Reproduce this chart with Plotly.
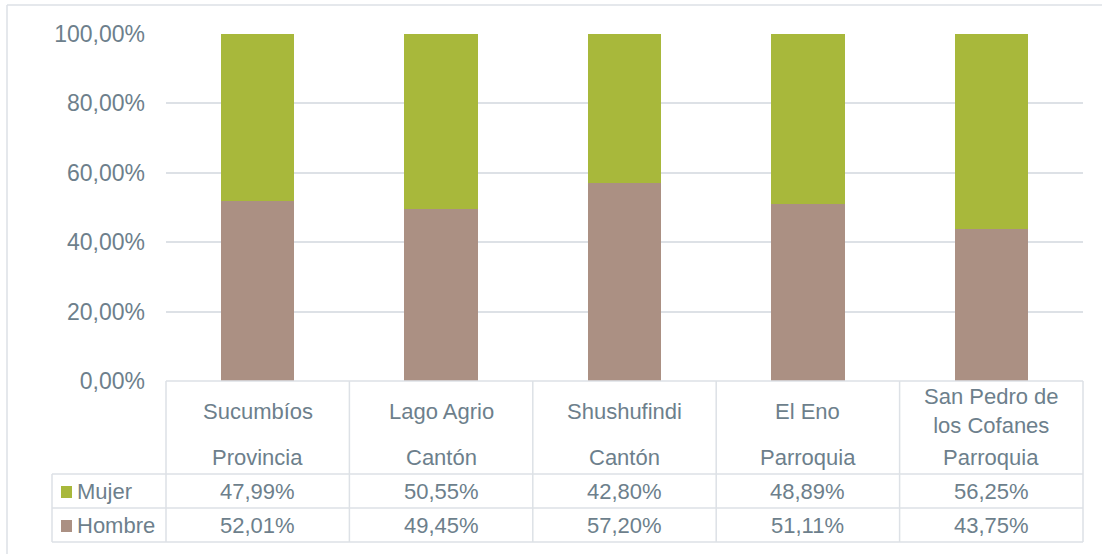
import plotly.graph_objects as go

# ---- data ----
cat_names = ["Sucumbíos", "Lago Agrio", "Shushufindi", "El Eno", "San Pedro de<br>los Cofanes"]
cat_types = ["Provincia", "Cantón", "Cantón", "Parroquia", "Parroquia"]
mujer = [47.99, 50.55, 42.80, 48.89, 56.25]
hombre = [52.01, 49.45, 57.20, 51.11, 43.75]
series_names = ["Mujer", "Hombre"]
y_ticks = [0, 0.2, 0.4, 0.6, 0.8, 1.0]

# ---- styling ----
W, H = 1102, 554
GREEN = "#a8b83b"
BROWN = "#ab9083"
GRID = "#dde1e6"
TXT = "#6d7f8c"
FONT = "Liberation Sans, Arial, sans-serif"
FS = 22
FS_TICK = 23

def px(x):
    return x / W

def py(y):
    return 1 - y / H

X0, X1 = 166, 1083          # plot area horizontal extent (px)
Y_TOP, Y_BOT = 34, 381       # 100% and 0% (px)
Y_HDR, Y_R1, Y_R2 = 474, 508, 542
LEG_X = 52

ids = list(range(len(cat_names)))

fig = go.Figure()
fig.add_trace(go.Bar(x=ids, y=[v / 100 for v in hombre], name="Hombre",
                     marker=dict(color=BROWN, line=dict(width=0))))
fig.add_trace(go.Bar(x=ids, y=[v / 100 for v in mujer], name="Mujer",
                     marker=dict(color=GREEN, line=dict(width=0))))

n = len(cat_names)
fig.update_layout(
    width=W, height=H, autosize=False,
    margin=dict(l=0, r=0, t=0, b=0, pad=0, autoexpand=False),
    paper_bgcolor="white", plot_bgcolor="white",
    barmode="stack", bargap=0.6,
    showlegend=False,
    separators=",.",
    font=dict(family=FONT, size=FS, color=TXT),
    xaxis=dict(domain=[px(X0), px(X1)], range=[-0.5, n - 0.5],
               showticklabels=False, showgrid=False, zeroline=False,
               showline=False, ticks="", automargin=False),
    yaxis=dict(domain=[py(Y_BOT), py(Y_TOP)], range=[0, 1],
               tickvals=y_ticks, tickformat=".2%",
               showgrid=True, gridcolor=GRID, gridwidth=1.5,
               zeroline=False, showline=False, ticks="",
               ticklabelstandoff=20, automargin=False,
               tickfont=dict(family=FONT, size=FS_TICK, color=TXT)),
)

shapes = []
line = dict(color=GRID, width=1.5)
# outer chart border (top and left)
shapes.append(dict(type="line", xref="paper", yref="paper", x0=px(7), x1=px(W), y0=py(5), y1=py(5), line=line))
shapes.append(dict(type="line", xref="paper", yref="paper", x0=px(7), x1=px(7), y0=py(5), y1=py(H), line=line))

colw = (X1 - X0) / n
bounds = [X0 + i * colw for i in range(n + 1)]
# table horizontal lines
shapes.append(dict(type="line", xref="paper", yref="paper", x0=px(X0), x1=px(X1), y0=py(Y_BOT), y1=py(Y_BOT), line=line))
for yy in (Y_HDR, Y_R1, Y_R2):
    shapes.append(dict(type="line", xref="paper", yref="paper", x0=px(LEG_X), x1=px(X1), y0=py(yy), y1=py(yy), line=line))
# table vertical lines
for b in bounds:
    shapes.append(dict(type="line", xref="paper", yref="paper", x0=px(b), x1=px(b), y0=py(Y_BOT), y1=py(Y_R2), line=line))
shapes.append(dict(type="line", xref="paper", yref="paper", x0=px(LEG_X), x1=px(LEG_X), y0=py(Y_HDR), y1=py(Y_R2), line=line))

# legend keys
row_centers = [(Y_HDR + Y_R1) / 2, (Y_R1 + Y_R2) / 2]
key_colors = [GREEN, BROWN]
for rc, col in zip(row_centers, key_colors):
    shapes.append(dict(type="rect", xref="paper", yref="paper",
                       x0=px(61), x1=px(72), y0=py(rc - 6 + 1), y1=py(rc + 6 + 1),
                       fillcolor=col, line=dict(width=0)))

annotations = []
def fmt(v):
    return f"{v:.2f}".replace(".", ",") + "%"

for i in range(n):
    cx = (bounds[i] + bounds[i + 1]) / 2
    annotations.append(dict(x=px(cx), y=py(411), xref="paper", yref="paper",
                            text=cat_names[i], showarrow=False, xanchor="center", yanchor="middle",
                            font=dict(family=FONT, size=FS, color=TXT)))
    annotations.append(dict(x=px(cx), y=py(457), xref="paper", yref="paper",
                            text=cat_types[i], showarrow=False, xanchor="center", yanchor="middle",
                            font=dict(family=FONT, size=FS, color=TXT)))
    for rc, vals in zip(row_centers, [mujer, hombre]):
        annotations.append(dict(x=px(cx), y=py(rc), xref="paper", yref="paper",
                                text=fmt(vals[i]), showarrow=False, xanchor="center", yanchor="middle",
                                font=dict(family=FONT, size=FS, color=TXT)))

for rc, name in zip(row_centers, series_names):
    annotations.append(dict(x=px(75), y=py(rc), xref="paper", yref="paper",
                            text=name, showarrow=False, xanchor="left", yanchor="middle",
                            font=dict(family=FONT, size=FS, color=TXT)))

fig.update_layout(shapes=shapes, annotations=annotations)
fig.write_html("out.html",
               config={"displayModeBar": False},
               post_script="document.body.style.margin='0';document.body.style.padding='0';")
